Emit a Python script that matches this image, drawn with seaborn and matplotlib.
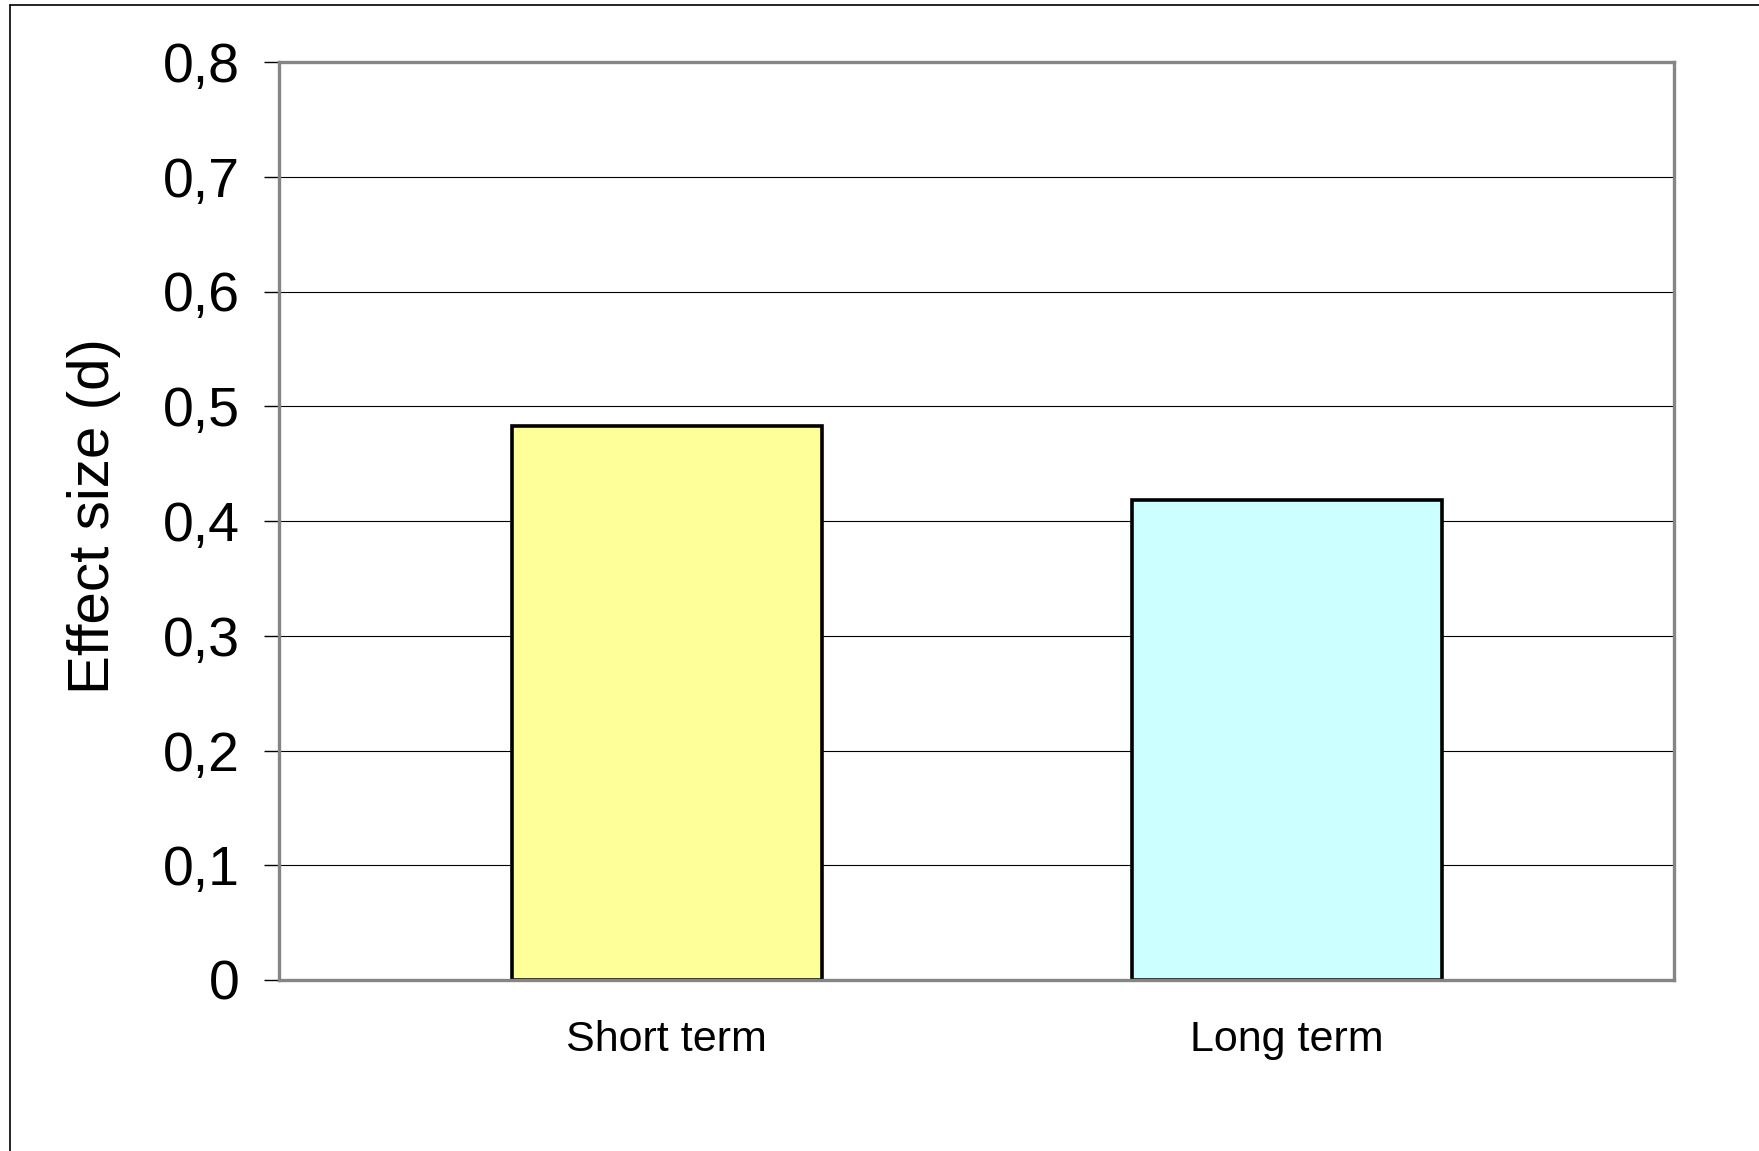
import matplotlib
matplotlib.use("Agg")
import matplotlib.pyplot as plt
from matplotlib.lines import Line2D
from matplotlib.ticker import FixedLocator, FuncFormatter
import seaborn as sns
import pandas as pd

# Effect sizes by follow-up period
categories = ["Short term", "Long term"]
effect_sizes = [0.483, 0.418]
bar_colors = ["#FFFF99", "#CCFFFF"]
y_ticks = [0, 0.1, 0.2, 0.3, 0.4, 0.5, 0.6, 0.7, 0.8]

sns.set_style("white")
plt.rcParams["font.family"] = ["Liberation Sans", "DejaVu Sans"]
plt.rcParams["text.color"] = "black"
plt.rcParams["axes.labelcolor"] = "black"
plt.rcParams["xtick.color"] = "black"
plt.rcParams["ytick.color"] = "black"

W, H, DPI = 1759, 1151, 100
fig = plt.figure(figsize=(W / DPI, H / DPI), dpi=DPI)
ax = fig.add_axes([279 / W, 1 - 980 / H, (1674 - 279) / W, (980 - 62) / H])

df = pd.DataFrame({"period": categories, "d": effect_sizes})
sns.barplot(data=df, x="period", y="d", hue="period", palette=bar_colors,
            order=categories, hue_order=categories, legend=False, saturation=1,
            width=0.5, edgecolor="black", linewidth=2.6, ax=ax, zorder=3)

ax.set_xlim(-0.625, 1.625)
ax.set_ylim(0, 0.8)

# horizontal gridlines
ax.yaxis.set_major_locator(FixedLocator(y_ticks))
ax.yaxis.set_major_formatter(FuncFormatter(lambda v, p: ("%g" % round(v, 1)).replace(".", ",")))
ax.grid(axis="y", color="black", linewidth=0.8, zorder=0)
ax.grid(axis="x", visible=False)
ax.set_axisbelow(True)

for side in ["top", "right", "bottom", "left"]:
    ax.spines[side].set_visible(True)
    ax.spines[side].set_color("#858585")
    ax.spines[side].set_linewidth(2.4)
    ax.spines[side].set_zorder(4)

ax.tick_params(axis="y", which="major", direction="out", length=11, width=1.0,
               color="black", pad=17, labelsize=40, left=True, labelcolor="black")
ax.tick_params(axis="x", which="major", length=0, pad=29, labelcolor="black")
for lbl in ax.get_xticklabels():
    lbl.set_fontsize(31)

ax.set_xlabel("")
ax.set_ylabel("Effect size (d)", fontsize=42, labelpad=0, color="black")
ax.yaxis.set_label_coords(-0.1133, 0.505)

# outer chart-area border (left and top edges)
fig.add_artist(Line2D([10 / W, 10 / W], [0, 1 - 5 / H], transform=fig.transFigure,
                      color="black", linewidth=1.2))
fig.add_artist(Line2D([10 / W, 1], [1 - 5 / H, 1 - 5 / H], transform=fig.transFigure,
                      color="black", linewidth=1.2))

fig.savefig("out.png", dpi=DPI, facecolor="white")
